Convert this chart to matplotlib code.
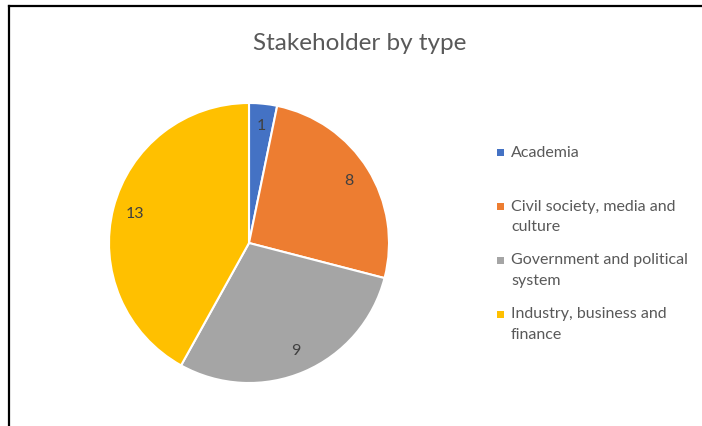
import matplotlib.pyplot as plt
from matplotlib.lines import Line2D
from matplotlib.patches import Rectangle

plt.rcParams['font.family'] = ['Lato', 'DejaVu Sans']

# data
categories = ["Academia", "Civil society, media and\nculture",
              "Government and political\nsystem", "Industry, business and\nfinance"]
counts = [1, 8, 9, 13]
colors = ["#4472C4", "#ED7D31", "#A5A5A5", "#FFC000"]

W, H = 702, 426
fig = plt.figure(figsize=(W / 100, H / 100), dpi=100)

# pie area (center ~ (249, 243) px, radius ~140 px)
cx, cy, r = 249, 243, 140
ax = fig.add_axes([(cx - r) / W, (H - cy - r) / H, 2 * r / W, 2 * r / H])
total = sum(counts)
wedges, texts, autotexts = ax.pie(
    counts, colors=colors, startangle=90, counterclock=False,
    autopct=lambda p: f"{round(p * total / 100):d}", pctdistance=0.84,
    wedgeprops=dict(edgecolor="white", linewidth=1.5),
    textprops=dict(color="#404040", fontsize=11.5))
ax.set_xlim(-1, 1)
ax.set_ylim(-1, 1)
ax.set_aspect("equal")
ax.axis("off")

fig.text(360 / W, 1 - 43 / H, "Stakeholder by type", ha="center", va="center",
         fontsize=17.5, color="#595959")

# legend, entries top aligned in equal slots
for i, (lab, col) in enumerate(zip(categories, colors)):
    y = 153 + i * 53.7
    fig.add_artist(Rectangle(((497) / W, 1 - (y + 3.5) / H), 7 / W, 7 / H,
                             transform=fig.transFigure, color=col, lw=0))
    fig.text(511 / W, 1 - (y - 7) / H, lab, ha="left", va="top",
             fontsize=11.5, color="#595959", linespacing=1.6)

# chart border (top and left edges visible)
fig.add_artist(Line2D([8.5 / W, 1], [1 - 5.5 / H, 1 - 5.5 / H],
                      transform=fig.transFigure, color="black", lw=1.6))
fig.add_artist(Line2D([8.5 / W, 8.5 / W], [0, 1 - 5.5 / H],
                      transform=fig.transFigure, color="black", lw=1.6))

plt.savefig("out.png", dpi=100)
